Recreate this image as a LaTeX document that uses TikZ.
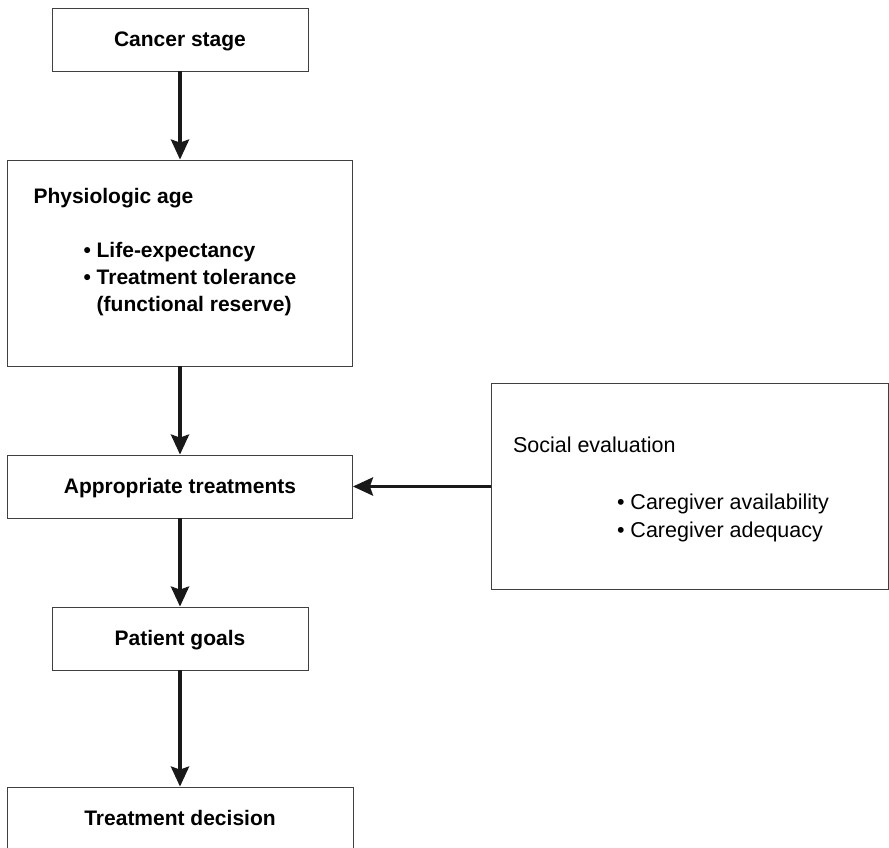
\documentclass[tikz,border=0pt]{standalone}
\usepackage{fontspec}
\setmainfont{Liberation Sans}
\usetikzlibrary{arrows.meta, positioning}

\begin{document}
\begin{tikzpicture}[>={Stealth[length=20pt, width=18pt, inset=3pt]}, % arrow head style
                node distance = 223.5pt, % centre to centre of boxes
                thick % line style
            ]

            \tikzstyle{box}=[draw = black!75, line width = 0.8pt, inner sep = 0pt,
            text height = 15pt, text depth = 1pt,
            font = \fontsize{21}{27}\selectfont\bfseries]
            \tikzstyle{txt}=[inner sep = 0pt, align = left,
            font = \fontsize{21}{27}\selectfont\bfseries]
            \tikzstyle{plain}=[inner sep = 0pt, align = left,
            font = \fontsize{21.5}{28}\selectfont]
            \tikzstyle{flow}=[->, line width = 3.8pt, black!90]

            \useasboundingbox (0,0) rectangle (889pt,-847pt);

            \node[box, minimum width = 256pt, minimum height = 63pt] (cancer) at
            (180pt,-39.5pt) {Cancer stage}; \node[box, minimum width = 345pt,
            minimum height = 206pt, below of=cancer] (physio) {}; \node[box,
            minimum width = 345pt, minimum height = 63pt, below of=physio]
            (approp) {Appropriate treatments}; \node[box, minimum width = 256pt,
            minimum height = 63pt, below of=approp, node distance = 152pt]
            (goals) {Patient goals}; \node[box, minimum width = 346pt, minimum
            height = 63pt, below of=goals, node distance = 180pt] (decision)
            {Treatment decision}; \node[box, minimum width = 397pt, minimum
            height = 206pt, right of=approp, node distance = 509.5pt] (social)
            {};

            % texts inside the two large boxes (base = last line)
            \node[txt, anchor = base west] (physiohead) at ([shift={(26pt,-44pt)}]physio.north
            west) {Physiologic age}; \node[txt, anchor = base west] (physiolist)
            at ([shift={(76pt,-152pt)}]physio.north west) {\textbullet\
            Life-expectancy\\ \textbullet\ Treatment tolerance\\
            \phantom{\textbullet\ }(functional reserve)};
            \node[plain, anchor = base west] (socialhead) at
            ([shift={(22pt,-69pt)}]social.north west) {Social evaluation};
            \node[plain, anchor = base west] (sociallist) at
            ([shift={(126pt,-154pt)}]social.north west) {\textbullet\ Caregiver
            availability\\ \textbullet\ Caregiver adequacy};

            \path[flow] (cancer) edge (physio); \path[flow] (physio) edge
            (approp); \path[flow] (approp) edge (goals); \path[flow] (goals)
            edge (decision); \path[flow] (social) edge (approp); \end{tikzpicture}
\end{document}
